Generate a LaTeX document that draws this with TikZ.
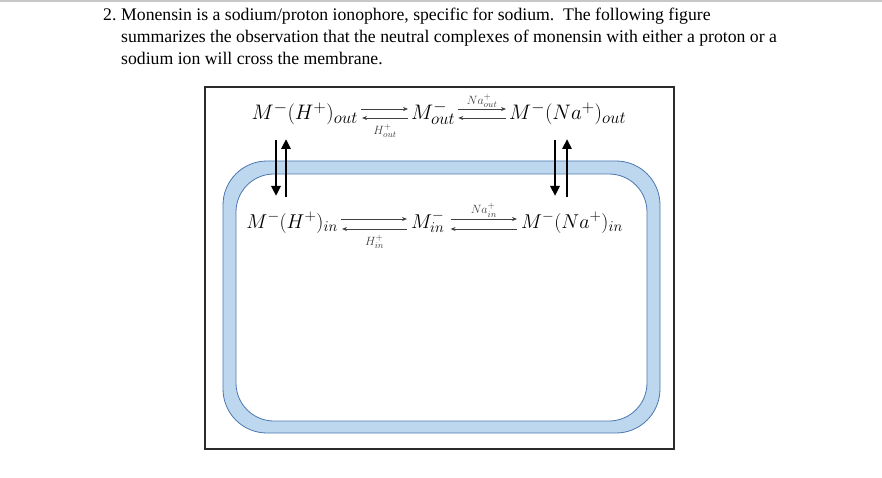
\RequirePackage{fix-cm}
\documentclass[tikz,border=0pt]{standalone}
\usepackage{fontspec}
\setmainfont{Liberation Serif}
\usetikzlibrary{positioning,arrows.meta,calc}
\DeclareMathSizes{21}{21}{17}{12}
\DeclareMathSizes{20}{20}{15}{11}
\DeclareMathSizes{12}{12}{9}{7}
\definecolor{membrana}{HTML}{BDD7EE}
\definecolor{bordemem}{HTML}{4A76B0}
\definecolor{marco}{HTML}{2B2B2B}
\tikzset{
  especie/.style={inner sep=1pt,font=\fontsize{21}{24}\selectfont},
  especiein/.style={inner sep=1pt,font=\fontsize{20}{23}\selectfont},
  ion/.style={inner sep=1.5pt,font=\fontsize{12}{14}\selectfont},
  equil/.style={-{Stealth[length=5pt,width=4pt]},line width=0.7pt,black!75},
  flujo/.style={-{Triangle[length=10pt,width=9pt]},line width=2.6pt},
}

\begin{document}
\begin{tikzpicture}[x=1pt,y=-1pt]
    \useasboundingbox (0,0) rectangle (882,478);
    \fill[black!22] (0,0) rectangle (882,2.5);
    % enunciado
    \node[anchor=base west,inner sep=0pt,font=\fontsize{17.7}{22}\selectfont] (num) at (103,21) {2.};
    \node[anchor=base west,inner sep=0pt,align=left,font=\fontsize{17.7}{22}\selectfont] (enunciado) at (121,65)
      {Monensin is a sodium/proton ionophore, specific for sodium.\ \ The following figure\\
       summarizes the observation that the neutral complexes of monensin with either a proton or a\\
       sodium ion will cross the membrane.};
    % marco y membrana
    \draw[marco,line width=1.3pt] (205,87) rectangle (674,449);
    \draw[bordemem,fill=membrana,line width=0.8pt,rounded corners=44pt] (223,161) rectangle (660,433);
    \draw[bordemem,fill=white,line width=0.8pt,rounded corners=38pt] (236,174) rectangle (647,421);
    % especies fuera
    \node[especie,anchor=base east] (mhout) at (359,120) {$M^{-}(H^{+})_{out}$};
    \node[especie,anchor=base west] (mout) at (410,120) {$M^{-}_{out}$};
    \node[especie,anchor=base west] (mnaout) at (508,120) {$M^{-}(Na^{+})_{out}$};
    % especies dentro
    \node[especiein,anchor=base east] (mhin) at (339,228) {$M^{-}(H^{+})_{in}$};
    \node[especiein,anchor=base west] (min) at (410,228) {$M^{-}_{in}$};
    \node[especiein,anchor=base west] (mnain) at (520,228) {$M^{-}(Na^{+})_{in}$};
    % equilibrios
    \draw[equil] ([shift={(2,-11)}]mhout.base east) -- ([shift={(-2,-11)}]mout.base west);
    \draw[equil] ([shift={(-2,-2)}]mout.base west) -- ([shift={(3,-2)}]mhout.base east)
      node[midway,below=4pt,ion] {$H^{+}_{out}$};
    \draw[equil] ([shift={(2,-11)}]mout.base east) -- ([shift={(-2,-11)}]mnaout.base west)
      node[midway,above,ion] {$Na^{+}_{out}$};
    \draw[equil] ([shift={(-2,-2)}]mnaout.base west) -- ([shift={(2,-2)}]mout.base east);
    \draw[equil] ([shift={(2,-9)}]mhin.base east) -- ([shift={(-3,-9)}]min.base west);
    \draw[equil] ([shift={(-3,1)}]min.base west) -- ([shift={(3,1)}]mhin.base east)
      node[midway,below=4pt,ion] {$H^{+}_{in}$};
    \draw[equil] ([shift={(5,-9)}]min.base east) -- ([shift={(-3,-9)}]mnain.base west)
      node[midway,above,ion] {$Na^{+}_{in}$};
    \draw[equil] ([shift={(-3,1)}]mnain.base west) -- ([shift={(5,1)}]min.base east);
    % paso por la membrana
    \draw[flujo] ([shift={(-83,20)}]mhout.base east) -- ([shift={(-63,-32)}]mhin.base east);
    \draw[flujo] ([shift={(-53,-31)}]mhin.base east) -- ([shift={(-73,19)}]mhout.base east);
    \draw[flujo] ([shift={(47,20)}]mnaout.base west) -- ([shift={(35,-32)}]mnain.base west);
    \draw[flujo] ([shift={(47,-31)}]mnain.base west) -- ([shift={(59,19)}]mnaout.base west);
  \end{tikzpicture}
\end{document}
